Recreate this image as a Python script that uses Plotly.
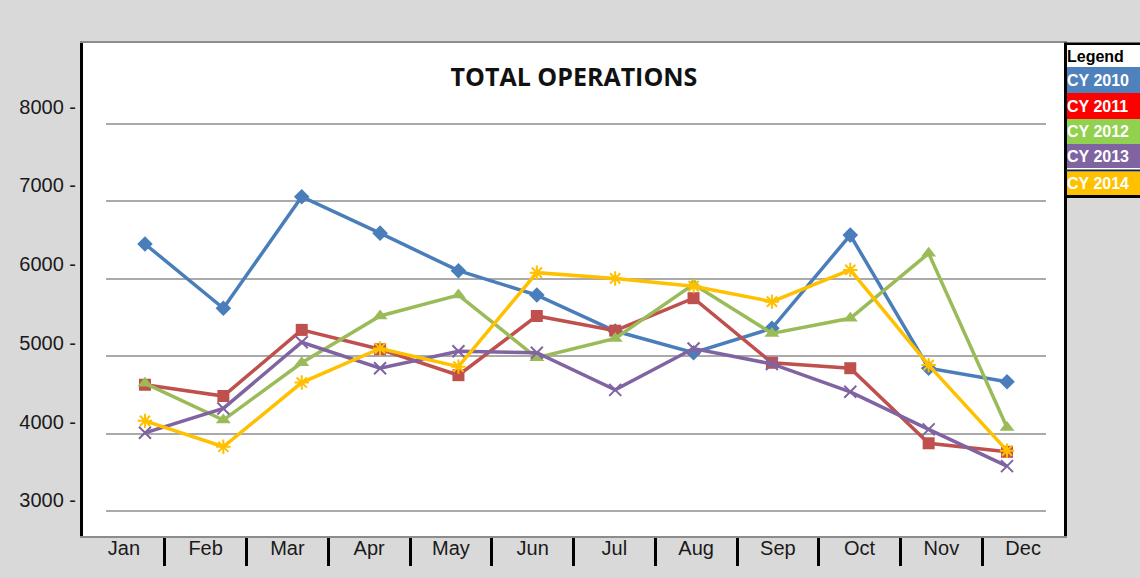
import plotly.graph_objects as go

months = ["Jan", "Feb", "Mar", "Apr", "May", "Jun", "Jul", "Aug", "Sep", "Oct", "Nov", "Dec"]

cy2010 = [6450, 5620, 7060, 6590, 6105, 5790, 5325, 5045, 5360, 6565, 4845, 4670]
cy2011 = [4630, 4485, 5340, 5090, 4755, 5520, 5330, 5750, 4915, 4845, 3875, 3765]
cy2012 = [4650, 4175, 4915, 5520, 5790, 4980, 5230, 5930, 5295, 5490, 6330, 4080]
cy2013 = [4010, 4325, 5180, 4845, 5065, 5045, 4565, 5100, 4900, 4540, 4055, 3580]
cy2014 = [4165, 3830, 4660, 5100, 4865, 6080, 6005, 5905, 5705, 6115, 4885, 3780]

series_names = ["CY 2010", "CY 2011", "CY 2012", "CY 2013", "CY 2014"]
series_values = [cy2010, cy2011, cy2012, cy2013, cy2014]
line_colors = ["#4a7ebb", "#c0504d", "#9bbb59", "#8064a2", "#ffc000"]
legend_colors = ["#4f81bd", "#ff0000", "#92d050", "#8064a2", "#ffc000"]
markers = ["diamond", "square", "triangle-up", "x-thin-open", "asterisk-open"]
marker_sizes = [12, 12, 13, 12, 12]

y_ticks = [3000, 4000, 5000, 6000, 7000, 8000]
y_tick_labels = [f"{v} -" for v in y_ticks]

W, H = 1140, 578
L, R, T, B = 83, 1140 - 1064, 43, 578 - 536
pw = W - L - R
ph = H - T - B

fig = go.Figure()

# empty trace hosting the outer frame axes (drawn first, underneath)
fig.add_trace(go.Scatter(x=[None], y=[None], xaxis="x", yaxis="y",
                         showlegend=False, hoverinfo="skip"))

for name, vals, col, sym, ms in zip(series_names, series_values, line_colors, markers, marker_sizes):
    open_sym = sym.endswith("open")
    fig.add_trace(go.Scatter(
        x=months, y=vals, name=name, mode="lines+markers",
        line=dict(color=col, width=3.5),
        marker=dict(symbol=sym, size=ms, color=col,
                    line=dict(color=col, width=2 if open_sym else 0)),
        xaxis="x2", yaxis="y2", showlegend=False,
    ))

x_dom = [(105.8 - L) / pw, (1046.2 - L) / pw]

fig.update_layout(
    width=W, height=H,
    margin=dict(l=L, r=R, t=T, b=B),
    paper_bgcolor="#d9d9d9",
    plot_bgcolor="white",
    title=dict(text="<b>TOTAL OPERATIONS</b>", x=574 / W, xanchor="center",
               y=1 - 77 / H, yanchor="middle", yref="container",
               font=dict(family="Open Sans", size=25, color="#111111")),
    # outer frame axes (labels)
    xaxis=dict(range=[-0.5, 11.5], domain=[0, 1], anchor="y",
               tickmode="array", tickvals=list(range(len(months))), ticktext=months,
               ticks="", showgrid=False, zeroline=False, ticklabelstandoff=-7,
               showline=True, linecolor="#8c8c8c", linewidth=2, mirror=True,
               tickfont=dict(family="Liberation Sans", size=20, color="#1a1a1a"),
               minor=dict(tickmode="array",
                          tickvals=[i + 0.5 for i in range(len(months) - 1)],
                          ticks="outside", ticklen=28, tickwidth=2.5, tickcolor="black",
                          showgrid=False)),
    yaxis=dict(range=[2549, 8806], domain=[0, 1], anchor="x",
               tickmode="array", tickvals=y_ticks, ticktext=y_tick_labels,
               ticks="", showgrid=False, zeroline=False,
               showline=True, linecolor="black", linewidth=3, mirror=True,
               tickfont=dict(family="Liberation Sans", size=20, color="#1a1a1a")),
    # inner data axes
    xaxis2=dict(type="category", categoryarray=months, range=[-0.5, 11.5],
                domain=x_dom, anchor="y2", showticklabels=False, ticks="",
                showgrid=False, zeroline=False, showline=False),
    yaxis2=dict(range=[2677, 9047], domain=[0, 1], anchor="x2",
                tickvals=y_ticks, showticklabels=False, ticks="",
                showgrid=True, gridcolor="#aaaaaa", gridwidth=2,
                zeroline=False, showline=False),
)

# custom legend box
lx0 = 1065.5
lx1 = 1142
def px_x(px):
    return (px - L) / pw
def px_y(py):
    return (H - B - py) / ph

fig.add_shape(type="rect", xref="paper", yref="paper",
              x0=px_x(lx0), x1=px_x(lx1), y0=px_y(196.5), y1=px_y(44),
              fillcolor="white", line=dict(color="black", width=3), layer="above")

rows = [("Legend", "white", "black", 44.5, 67)]
row_bounds = [(67, 93), (93, 119), (119, 144), (144, 168), (172, 195)]
for name, col, (t0, t1) in zip(series_names, legend_colors, row_bounds):
    rows.append((name, col, "white", t0, t1))

for text, bg, fc, t0, t1 in rows:
    fig.add_annotation(
        xref="paper", yref="paper", x=px_x(lx0 + 1.5), y=px_y(t0),
        xanchor="left", yanchor="top", text=f"<b>{text}</b>", showarrow=False,
        bgcolor=bg, width=lx1 - lx0, height=t1 - t0, align="left", valign="middle",
        borderpad=0, borderwidth=0,
        font=dict(family="Liberation Sans", size=16, color=fc),
    )

# thin dark separator above the last legend row
fig.add_shape(type="line", xref="paper", yref="paper",
              x0=px_x(lx0), x1=px_x(lx1), y0=px_y(170.5), y1=px_y(170.5),
              line=dict(color="#222222", width=2), layer="above")

fig.write_html("out.html", config={"displayModeBar": False},
               post_script="document.body.style.margin='0';")
